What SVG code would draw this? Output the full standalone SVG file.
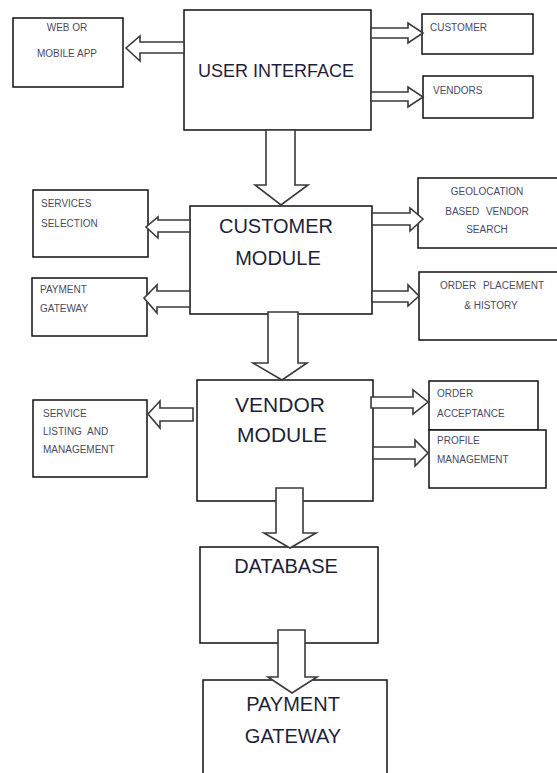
<svg xmlns="http://www.w3.org/2000/svg" width="557" height="773" viewBox="0 0 557 773">
<style>
.box{fill:#fff;stroke:#111;stroke-width:1.5}
.arr{fill:#fff;stroke:#3a3a3a;stroke-width:1.6;stroke-linejoin:miter}
.big{font-family:"Liberation Sans",Arial,sans-serif;fill:#1f1f3a;text-anchor:middle}
.sm{font-family:"Liberation Sans",Arial,sans-serif;font-size:10px;fill:#4a4a66}
.c{text-anchor:middle}
</style>
<rect width="557" height="773" fill="#fff"/>
<g id="web-app"><rect class="box" x="13" y="18" width="110" height="69"/><text class="sm c" x="67" y="31" font-size="9">WEB OR</text><text class="sm c" x="67" y="57" font-size="9">MOBILE APP</text></g>
<g id="user-interface"><rect class="box" x="184" y="10" width="187" height="120"/><text class="big" x="276" y="77" font-size="18">USER INTERFACE</text></g>
<g id="customer"><rect class="box" x="422" y="14" width="111" height="40"/><text class="sm" x="430" y="31">CUSTOMER</text></g>
<g id="vendors"><rect class="box" x="423" y="76" width="110" height="42"/><text class="sm" x="433" y="94">VENDORS</text></g>
<g id="services-selection"><rect class="box" x="33" y="190" width="115" height="67"/><text class="sm" x="41" y="207">SERVICES</text><text class="sm" x="41" y="227">SELECTION</text></g>
<g id="payment-gateway-small"><rect class="box" x="32" y="278" width="115" height="58"/><text class="sm" x="40" y="293">PAYMENT</text><text class="sm" x="40" y="312">GATEWAY</text></g>
<g id="customer-module"><rect class="box" x="190" y="206" width="182" height="108"/><text class="big" x="276" y="233" font-size="20">CUSTOMER</text><text class="big" x="278" y="265" font-size="20">MODULE</text></g>
<g id="geolocation"><rect class="box" x="418" y="178" width="145" height="70"/><text class="sm c" x="487" y="195" font-size="10.5">GEOLOCATION</text><text class="sm c" x="487" y="215" font-size="10.5" word-spacing="4">BASED VENDOR</text><text class="sm c" x="487" y="233" font-size="10.5">SEARCH</text></g>
<g id="order-placement"><rect class="box" x="419" y="272" width="145" height="68"/><text class="sm c" x="492" y="289" font-size="10.5" word-spacing="4">ORDER PLACEMENT</text><text class="sm c" x="491" y="309" font-size="10.5">&amp; HISTORY</text></g>
<g id="vendor-module"><rect class="box" x="197" y="380" width="176" height="121"/><text class="big" x="280" y="412" font-size="21">VENDOR</text><text class="big" x="282" y="442" font-size="21">MODULE</text></g>
<g id="service-listing"><rect class="box" x="33" y="400" width="114" height="77"/><text class="sm" x="43" y="417">SERVICE</text><text class="sm" x="43" y="435" word-spacing="3">LISTING AND</text><text class="sm" x="43" y="453">MANAGEMENT</text></g>
<g id="order-acceptance"><rect class="box" x="429" y="381" width="109" height="49"/><text class="sm" x="437" y="397">ORDER</text><text class="sm" x="437" y="417">ACCEPTANCE</text></g>
<g id="profile-management"><rect class="box" x="429" y="430" width="117" height="58"/><text class="sm" x="437" y="444">PROFILE</text><text class="sm" x="437" y="463">MANAGEMENT</text></g>
<g id="database"><rect class="box" x="200" y="547" width="178" height="96"/><text class="big" x="286" y="573" font-size="20">DATABASE</text></g>
<g id="payment-gateway"><rect class="box" x="203" y="680" width="184" height="100"/><text class="big" x="293" y="711" font-size="20">PAYMENT</text><text class="big" x="293" y="743" font-size="20">GATEWAY</text></g>
<g id="connectors">
<polygon class="arr" points="184,42 140,42 140,36 126,48 140,61 140,53 184,53"/>
<polygon class="arr" points="371,28 408,28 408,23 423,33 408,43 408,38 371,38"/>
<polygon class="arr" points="371,92 408,92 408,87 423,97 408,107 408,101 371,101"/>
<polygon class="arr" points="266,130 266,185 255,185 281,205 308,185 295,185 295,130"/>
<polygon class="arr" points="190,220 158,220 158,217 146,227 158,238 158,232 190,232"/>
<polygon class="arr" points="190,291 157,291 157,285 144,298 157,313 157,307 190,307"/>
<polygon class="arr" points="372,213 410,213 410,208 423,219 410,231 410,225 372,225"/>
<polygon class="arr" points="372,291 408,291 408,285 419,296 408,306 408,302 372,302"/>
<polygon class="arr" points="268,312 268,363 253,363 282,380 307,363 298,363 298,312"/>
<polygon class="arr" points="193,408 160,408 160,401 148,414 160,428 160,421 193,421"/>
<polygon class="arr" points="371,397 413,397 413,390 428,402 413,414 413,408 371,408"/>
<polygon class="arr" points="373,447 415,447 415,440 428,453 415,466 415,459 373,459"/>
<polygon class="arr" points="276,488 276,533 264,533 290,548 316,533 303,533 303,488"/>
<polygon class="arr" points="278,630 278,677 268,677 292,693 317,677 305,677 305,630"/>
</g>
</svg>
